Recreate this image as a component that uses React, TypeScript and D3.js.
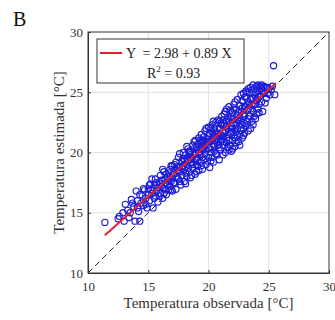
import { useRef, useEffect } from "react";
import * as d3 from "d3";

// Temperatura observada (x) vs estimada (y)
const observada = [
  11.4, 12.6, 12.5, 13.0, 12.9, 13.1, 13.3, 13.5, 13.6, 13.8, 13.9, 14.3, 14.0, 14.1, 14.2, 14.4, 14.5, 14.6, 14.7, 14.8,
  14.9, 15.0, 15.1, 15.2, 15.3, 15.4, 15.5, 15.5, 15.6, 15.7, 15.8, 15.9, 16.0, 16.0, 16.1, 16.2, 16.3, 16.3, 16.4, 16.5,
  16.6, 16.6, 16.7, 16.8, 16.9, 17.0, 17.0, 17.1, 17.2, 17.3, 17.3, 17.4, 17.5, 17.5, 17.6, 17.7, 17.8, 17.8, 17.9, 18.0,
  18.0, 18.1, 18.2, 18.2, 18.3, 18.3, 18.4, 18.5, 18.5, 18.6, 18.7, 18.7, 18.8, 18.9, 18.9, 19.0, 19.0, 19.1, 19.2, 19.2,
  19.3, 19.4, 19.4, 19.5, 19.5, 19.6, 19.7, 19.7, 19.8, 19.9, 20.0, 20.0, 20.1, 20.1, 20.2, 20.3, 20.3, 20.4, 20.5, 20.5,
  20.6, 20.7, 20.7, 20.8, 20.9, 21.0, 21.0, 21.1, 21.2, 21.2, 21.3, 21.4, 21.4, 21.5, 21.6, 21.6, 21.7, 21.8, 21.9, 21.9,
  22.0, 22.0, 22.1, 22.2, 22.2, 22.3, 22.4, 22.4, 22.5, 22.5, 22.6, 22.7, 22.7, 22.8, 22.9, 23.0, 23.0, 23.1, 23.2, 23.2,
  23.3, 23.4, 23.5, 23.5, 23.6, 23.7, 23.7, 23.8, 23.9, 24.0, 24.0, 24.1, 24.2, 24.3, 24.4, 24.5, 24.6, 24.7, 24.8, 25.0,
  25.1, 25.3, 25.4, 25.5,
  13.4, 13.7, 14.1, 14.3, 14.6, 14.8, 15.0, 15.2, 15.3, 15.6, 15.8, 15.9, 16.1, 16.2, 16.4, 16.5, 16.7, 16.8, 16.9, 17.1,
  17.2, 17.4, 17.6, 17.7, 17.9, 18.1, 18.2, 18.4, 18.5, 18.6, 18.8, 18.9, 19.0, 19.1, 19.3, 19.3, 19.4, 19.6, 19.6, 19.8,
  19.8, 19.9, 20.0, 20.2, 20.2, 20.4, 20.4, 20.6, 20.6, 20.8, 20.8, 20.9, 21.0, 21.1, 21.2, 21.3, 21.3, 21.5, 21.5, 21.7,
  21.7, 21.8, 21.8, 22.0, 22.1, 22.1, 22.2, 22.3, 22.3, 22.4, 22.6, 22.6, 22.7, 22.8, 22.8, 22.9, 22.9, 23.0, 23.1, 23.1,
  23.2, 23.3, 23.3, 23.4, 23.4, 23.5, 23.6, 23.6, 23.7, 23.8, 23.8, 23.9, 24.0, 24.1, 24.1, 24.2, 24.3, 24.4, 24.5, 24.6,
  24.7, 24.9, 24.9, 25.2,
  15.1, 15.4, 15.7, 16.0, 16.3, 16.5, 16.7, 16.9, 17.0, 17.2, 17.3, 17.5, 17.6, 17.8, 18.0, 18.1, 18.3, 18.4, 18.6, 18.7,
  18.9, 19.0, 19.1, 19.2, 19.3, 19.5, 19.5, 19.7, 19.8, 19.9, 20.1, 20.2, 20.3, 20.5, 20.5, 20.7, 20.9, 20.9, 21.0, 21.1,
  21.2, 21.4, 21.5, 21.6, 21.7, 21.9, 21.9, 22.0, 22.1, 22.3, 22.4, 22.5, 22.6, 22.8, 22.9, 23.0, 23.2, 23.3, 23.5, 23.7,
  23.9, 24.2,
  16.8, 17.4, 17.9, 18.2, 18.5, 18.8, 19.1, 19.4, 19.7, 20.0, 20.3, 20.6, 20.9, 21.2, 21.5, 21.8, 22.1, 22.4, 22.7, 23.0,
  23.3, 23.6, 23.9, 24.2, 19.6, 20.4, 21.3, 22.2, 23.1, 24.4,
];
const estimada = [
  14.2, 14.7, 14.5, 14.3, 15.0, 15.7, 15.2, 15.0, 16.1, 15.5, 14.3, 14.3, 16.8, 16.0, 15.1, 15.8, 16.4, 15.6, 16.9, 16.2,
  15.4, 17.0, 16.0, 17.4, 16.6, 15.4, 17.3, 16.2, 17.8, 16.8, 15.9, 17.5, 16.6, 18.1, 17.2, 16.2, 18.4, 17.0, 17.8, 16.5,
  18.0, 17.3, 16.9, 18.6, 17.6, 16.8, 18.9, 18.2, 17.4, 16.95, 19.2, 18.5, 17.8, 19.6, 18.8, 17.3, 19.3, 18.1, 20.0, 18.6,
  17.6, 19.8, 19.0, 18.0, 20.3, 19.4, 18.4, 17.9, 20.0, 19.2, 20.6, 18.7, 19.8, 21.0, 18.2, 19.5, 20.4, 18.9, 21.2, 20.0,
  19.2, 20.8, 21.5, 19.6, 18.6, 20.3, 21.8, 19.9, 20.9, 19.3, 21.4, 22.1, 18.75, 20.3, 21.0, 22.3, 19.6, 20.7, 21.8, 20.1,
  22.5, 21.2, 19.8, 20.6, 22.0, 21.5, 20.2, 23.0, 21.8, 20.6, 22.4, 20.0, 23.4, 21.2, 22.8, 20.4, 23.8, 21.6, 22.2, 20.1,
  23.3, 21.0, 24.0, 22.0, 20.5, 23.6, 21.4, 24.4, 22.6, 20.9, 23.9, 21.8, 24.8, 22.3, 23.2, 24.6, 21.6, 23.8, 25.0, 22.6,
  24.2, 23.0, 25.4, 22.0, 24.5, 25.6, 23.4, 24.0, 22.8, 25.5, 24.3, 23.6, 25.1, 24.7, 25.3, 23.4, 24.9, 25.4, 24.5, 25.3,
  24.8, 25.5, 27.2, 24.8,
  14.6, 15.8, 15.4, 16.5, 17.0, 15.7, 16.5, 16.9, 17.8, 16.4, 17.1, 16.4, 17.7, 18.6, 16.9, 17.5, 18.3, 17.2, 18.9, 17.5,
  19.0, 17.9, 19.9, 18.4, 18.9, 18.3, 20.5, 19.7, 19.1, 18.1, 20.3, 19.4, 18.4, 20.7, 21.0, 19.8, 18.9, 21.3, 19.4, 22.0,
  20.2, 21.1, 19.6, 20.0, 22.0, 21.4, 19.2, 21.0, 19.9, 22.7, 21.6, 20.4, 22.4, 21.1, 19.8, 21.6, 23.2, 22.2, 20.8, 21.0,
  22.6, 20.6, 23.5, 22.0, 21.4, 22.8, 24.2, 20.8, 22.3, 23.1, 21.5, 22.9, 23.4, 24.3, 21.2, 24.9, 22.0, 23.0, 22.2, 24.6,
  23.5, 25.3, 22.8, 24.0, 25.0, 23.6, 22.6, 25.2, 24.5, 25.3, 23.0, 24.6, 23.2, 25.6, 24.8, 24.0, 25.5, 24.2, 25.0, 25.5,
  24.1, 25.4, 24.9, 25.2,
  17.3, 16.9, 17.5, 17.4, 16.6, 18.2, 17.6, 16.9, 17.9, 18.6, 18.0, 18.4, 17.6, 18.7, 19.3, 17.4, 18.7, 20.1, 19.6, 19.0,
  20.0, 19.0, 19.6, 18.5, 20.4, 20.2, 21.0, 20.6, 19.0, 20.6, 21.6, 19.3, 21.1, 20.5, 22.0, 20.8, 21.3, 19.4, 20.9, 22.3,
  21.3, 21.8, 23.6, 21.5, 20.2, 21.7, 23.0, 20.3, 22.4, 21.7, 22.0, 23.4, 20.6, 23.7, 21.4, 22.4, 24.0, 21.8, 24.4, 22.3,
  25.0, 23.3,
  18.0, 18.8, 19.5, 19.5, 19.4, 20.9, 20.2, 20.3, 20.9, 20.9, 21.7, 21.6, 22.6, 22.7, 22.6, 22.9, 23.6, 22.7, 22.6, 23.8,
  23.6, 24.0, 24.0, 24.6, 21.0, 22.6, 20.9, 21.2, 25.1, 25.6,
];

const ticks = [10, 15, 20, 25, 30];
const fitIntercept = 2.98;
const fitSlope = 0.89;
const fitRange = [11.4, 25.6];

export default function App() {
  const svgRef = useRef<SVGSVGElement>(null);

  useEffect(() => {
    if (!svgRef.current) return;
    const svg = d3.select(svgRef.current);
    svg.selectAll("*").remove();

    const margin = { top: 32, right: 6, bottom: 47, left: 88 };
    const width = 241, height = 241;
    const font = "'Liberation Serif', 'DejaVu Serif', serif";

    svg.append("text").attr("x", 13).attr("y", 26).attr("font-family", font)
      .attr("font-size", 20).attr("fill", "#111").text("B");

    const g = svg.append("g").attr("transform", `translate(${margin.left},${margin.top})`);
    const x = d3.scaleLinear().domain([10, 30]).range([0, width]);
    const y = d3.scaleLinear().domain([10, 30]).range([height, 0]);

    // grid
    g.append("g").selectAll("line").data(ticks.slice(1, -1)).enter().append("line")
      .attr("x1", d => x(d)).attr("x2", d => x(d)).attr("y1", 0).attr("y2", height)
      .attr("stroke", "#e2e2e2").attr("stroke-width", 1);
    g.append("g").selectAll("line").data(ticks.slice(1, -1)).enter().append("line")
      .attr("y1", d => y(d)).attr("y2", d => y(d)).attr("x1", 0).attr("x2", width)
      .attr("stroke", "#e2e2e2").attr("stroke-width", 1);

    // 1:1 line
    g.append("line").attr("x1", x(10)).attr("y1", y(10)).attr("x2", x(30)).attr("y2", y(30))
      .attr("stroke", "#222").attr("stroke-width", 1).attr("stroke-dasharray", "6,4");

    // points
    g.append("g").selectAll("circle").data(observada).enter().append("circle")
      .attr("cx", d => x(d)).attr("cy", (_, i) => y(estimada[i])).attr("r", 3.1)
      .attr("fill", "none").attr("stroke", "#1c1cd6").attr("stroke-width", 1.15);

    // regression line
    g.append("line")
      .attr("x1", x(fitRange[0])).attr("y1", y(fitIntercept + fitSlope * fitRange[0]))
      .attr("x2", x(fitRange[1])).attr("y2", y(fitIntercept + fitSlope * fitRange[1]))
      .attr("stroke", "#e0202e").attr("stroke-width", 2);

    // axes
    const xAxis = g.append("g").attr("transform", `translate(0,${height})`)
      .call(d3.axisBottom(x).tickValues(ticks).tickSize(-3).tickPadding(9));
    const yAxis = g.append("g").call(d3.axisLeft(y).tickValues(ticks).tickSize(-3).tickPadding(5));
    [xAxis, yAxis].forEach(a => {
      a.select(".domain").attr("stroke", "#333");
      a.selectAll("line").attr("stroke", "#333");
      a.selectAll("text").attr("font-family", font).attr("font-size", 13).attr("fill", "#333");
    });
    g.append("rect").attr("width", width).attr("height", height).attr("fill", "none").attr("stroke", "#333");

    // legend
    const lg = g.append("g").attr("transform", `translate(${97 - margin.left},${39 - margin.top})`);
    lg.append("rect").attr("width", 147).attr("height", 44).attr("fill", "#fff").attr("stroke", "#333");
    lg.append("line").attr("x1", 3).attr("x2", 25).attr("y1", 14).attr("y2", 14)
      .attr("stroke", "#e0202e").attr("stroke-width", 2);
    lg.append("text").attr("x", 29).attr("y", 19).attr("font-family", font).attr("font-size", 14)
      .attr("fill", "#222").attr("xml:space", "preserve").text("Y  = 2.98 + 0.89 X");
    const r2 = lg.append("text").attr("x", 50).attr("y", 39).attr("font-family", font)
      .attr("font-size", 14).attr("fill", "#222");
    r2.append("tspan").text("R");
    r2.append("tspan").attr("font-size", 9).attr("dy", -6).text("2");
    r2.append("tspan").attr("dy", 6).text(" = 0.93");

    // axis titles
    svg.append("text").attr("x", margin.left + width / 2).attr("y", 308).attr("text-anchor", "middle")
      .attr("font-family", font).attr("font-size", 15).attr("fill", "#333")
      .text("Temperatura observada [°C]");
    svg.append("text").attr("transform", `translate(64,${margin.top + height / 2}) rotate(-90)`)
      .attr("text-anchor", "middle").attr("font-family", font).attr("font-size", 15).attr("fill", "#333")
      .text("Temperatura estimada [°C]");
  }, []);

  return (
    <svg ref={svgRef} width={335} height={320}
      style={{ position: "absolute", left: 0, top: 0, background: "#fff" }} />
  );
}
